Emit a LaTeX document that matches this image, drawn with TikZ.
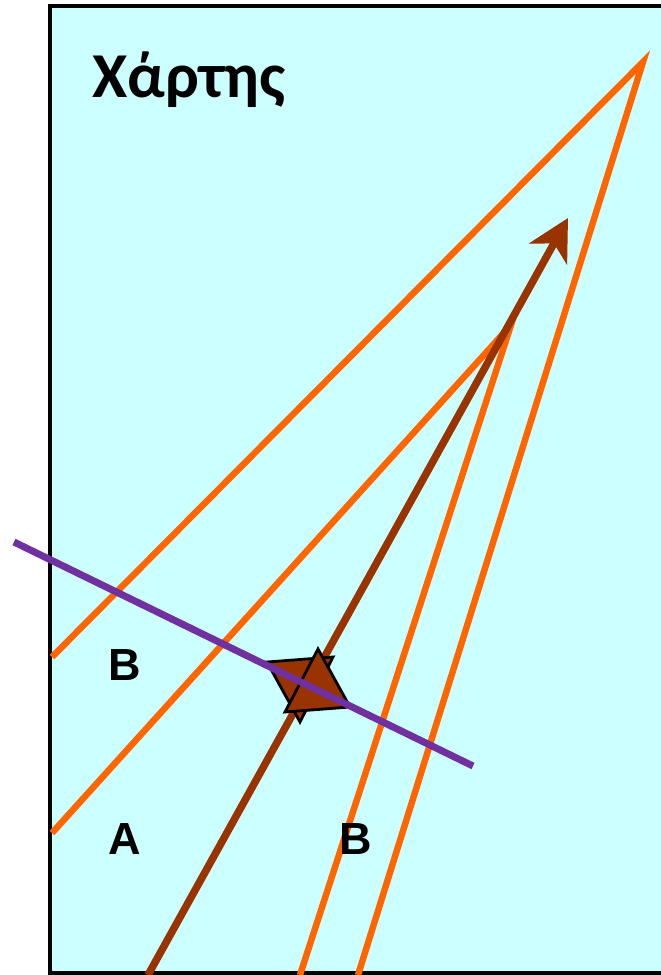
\documentclass[tikz,border=0pt]{standalone}
\usepackage{fontspec}
\setmainfont{Liberation Sans}
\newfontfamily\titlefont{Carlito}
\usetikzlibrary{arrows.meta,positioning}
\definecolor{paper}{RGB}{204,255,255}
\definecolor{ray}{RGB}{255,102,0}
\definecolor{rust}{RGB}{153,51,0}
\definecolor{plum}{RGB}{112,48,160}
\tikzset{
  frame/.style={draw=black,line width=4pt,fill=paper},
  ray/.style={draw=ray,line width=6.5pt},
  course/.style={draw=rust,line width=7.5pt,-{Stealth[length=41pt,width=43pt,inset=12pt]}},
  bearing/.style={draw=plum,line width=7pt},
  posmark/.style={draw=black,line width=2.8pt,fill=rust,line join=miter},
  tag/.style={font=\fontsize{45}{50}\selectfont\bfseries},
}

\begin{document}
\begin{tikzpicture}[x=1pt,y=-1pt]
  \useasboundingbox (0,0) rectangle (661,975);
  \clip (0,0) rectangle (661,975);
  \path[frame] (50,6) rectangle (680,973);
  % rays
  \coordinate (far) at (643,62);
  \coordinate (near) at (511,325);
  \coordinate (fl) at (52,657);
  \coordinate (fb) at (358,975);
  \coordinate (nl) at (52,833);
  \coordinate (nb) at (300,975);
  \draw[ray] (fl) -- (far) -- (fb);
  \draw[ray] (nl) -- (near) -- (nb);
  % course
  \coordinate (start) at (148,975);
  \coordinate (tip) at (568,218);
  \draw[course] (start) -- (tip);
  % position mark
  \begin{scope}[shift={(308,688)}]
    \draw[posmark] (-41,-26) -- (25,-31) -- (-8,34) -- cycle;
    \draw[posmark] (10,-39) -- (-23,24) -- (42,19) -- cycle;
  \end{scope}
  \coordinate (pa) at (14,542);
  \coordinate (pb) at (473,766);
  \draw[bearing] (pa) -- (pb);
  % labels
  \node[font=\titlefont\fontsize{64}{68}\selectfont\bfseries,anchor=base west] (title) at (89,97) {Χάρτης};
  \node[tag] (b1) at (125,665) {B};
  \node[tag] (a1) at (125,839) {A};
  \node[tag] (b2) at (356,839) {B};
\end{tikzpicture}
\end{document}
